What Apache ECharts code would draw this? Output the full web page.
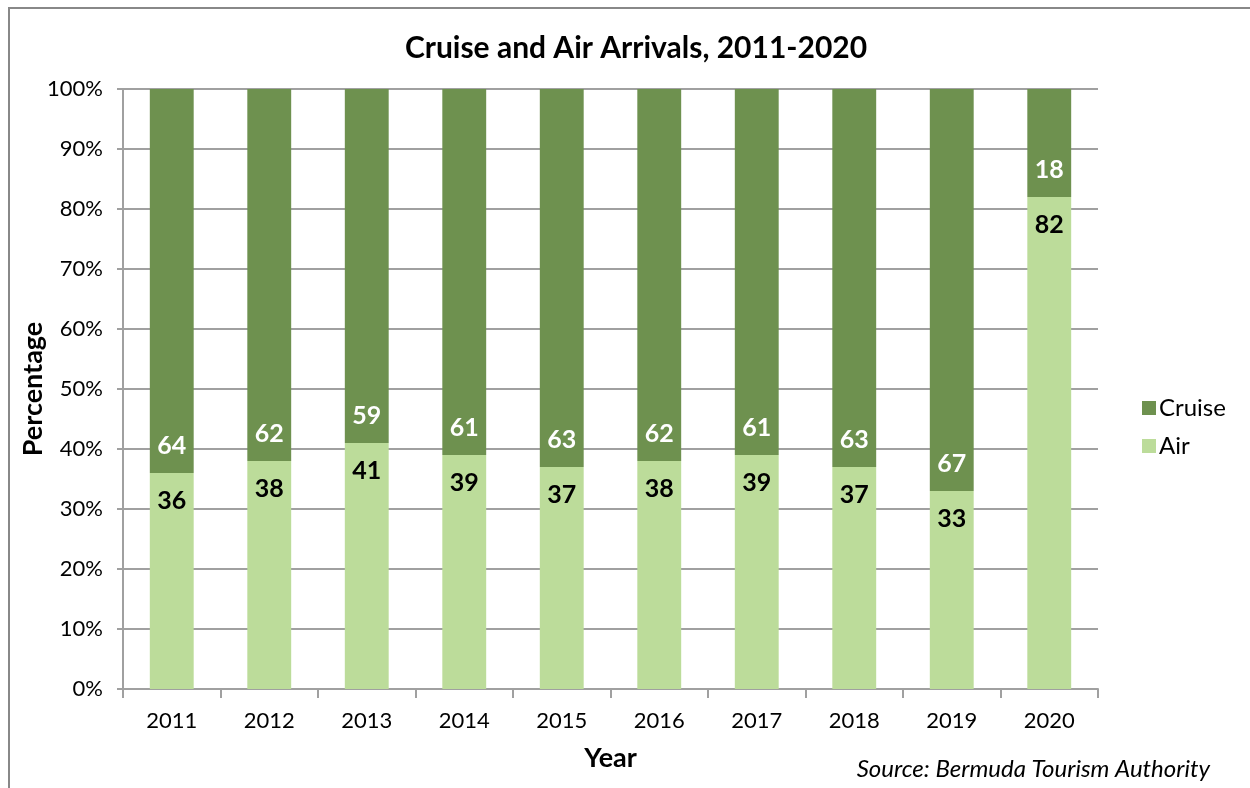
<!DOCTYPE html>
<html>
<head>
<meta charset="utf-8">
<script src="https://cdn.jsdelivr.net/npm/echarts@6/dist/echarts.min.js"></script>
<style>
  html, body { margin: 0; padding: 0; background: #fff; }
  #chart { width: 1250px; height: 788px; }
</style>
</head>
<body>
<div id="chart"></div>
<script>
// data
var years = ['2011', '2012', '2013', '2014', '2015', '2016', '2017', '2018', '2019', '2020'];
var airShare = [36, 38, 41, 39, 37, 38, 39, 37, 33, 82];
var cruiseShare = [64, 62, 59, 61, 63, 62, 61, 63, 67, 18];

var font = 'Lato, "Open Sans", sans-serif';
var gray = '#a0a0a0';

var chart = echarts.init(document.getElementById('chart'));
var option = {
  animation: false,
  textStyle: { fontFamily: font },
  title: {
    text: 'Cruise and Air Arrivals, 2011-2020',
    left: 631,
    top: 28,
    textAlign: 'center',
    textStyle: { fontSize: 30, fontWeight: 'bold', color: '#000', fontFamily: font }
  },
  legend: {
    orient: 'vertical',
    left: 1137,
    top: 391,
    itemWidth: 14,
    itemHeight: 14,
    itemGap: 14,
    icon: 'rect',
    data: ['Cruise', 'Air'],
    textStyle: { fontSize: 24, color: '#000', fontFamily: font, padding: [0, 0, 0, -2] }
  },
  grid: { left: 123, right: 152, top: 89, bottom: 99 },
  xAxis: {
    type: 'category',
    data: years,
    name: 'Year',
    nameLocation: 'middle',
    nameGap: 56,
    nameTextStyle: { fontSize: 27, fontWeight: 'bold', color: '#000' },
    axisLine: { lineStyle: { color: gray, width: 2 } },
    axisTick: { show: true, interval: 0, lineStyle: { color: gray, width: 2 }, length: 9 },
    axisLabel: { fontSize: 22, color: '#000', margin: 21 }
  },
  yAxis: {
    type: 'value',
    min: 0,
    max: 100,
    interval: 10,
    name: 'Percentage',
    nameLocation: 'middle',
    nameGap: 76,
    nameMoveOverlap: false,
    nameTextStyle: { fontSize: 27, fontWeight: 'bold', color: '#000' },
    axisLine: { show: true, lineStyle: { color: gray, width: 2 } },
    axisTick: { show: true, length: 6, lineStyle: { color: gray, width: 2 } },
    splitLine: { lineStyle: { color: gray, width: 2 } },
    axisLabel: { fontSize: 22, color: '#000', margin: 20, formatter: '{value}%' }
  },
  series: [
    {
      name: 'Air',
      type: 'bar',
      stack: 'share',
      barWidth: '45%',
      data: airShare,
      itemStyle: { color: '#bcdc9a' },
      label: {
        show: true,
        position: 'insideTop',
        distance: 15,
        fontSize: 25,
        fontWeight: 'bold',
        color: '#000',
        fontFamily: font
      }
    },
    {
      name: 'Cruise',
      type: 'bar',
      stack: 'share',
      barWidth: '45%',
      data: cruiseShare,
      itemStyle: { color: '#6e914f' },
      label: {
        show: true,
        position: 'insideBottom',
        distance: 15,
        fontSize: 25,
        fontWeight: 'bold',
        color: '#fff',
        fontFamily: font
      }
    }
  ],
  graphic: [
    {
      type: 'polyline',
      shape: { points: [[9, 800], [9, 8], [1260, 8]] },
      style: { stroke: '#888', lineWidth: 2, fill: null }
    },
    {
      type: 'text',
      x: 1210,
      y: 757,
      style: {
        text: 'Source: Bermuda Tourism Authority',
        font: 'italic 24px ' + font,
        fill: '#000',
        textAlign: 'right'
      }
    }
  ]
};
chart.setOption(option);
</script>
</body>
</html>
